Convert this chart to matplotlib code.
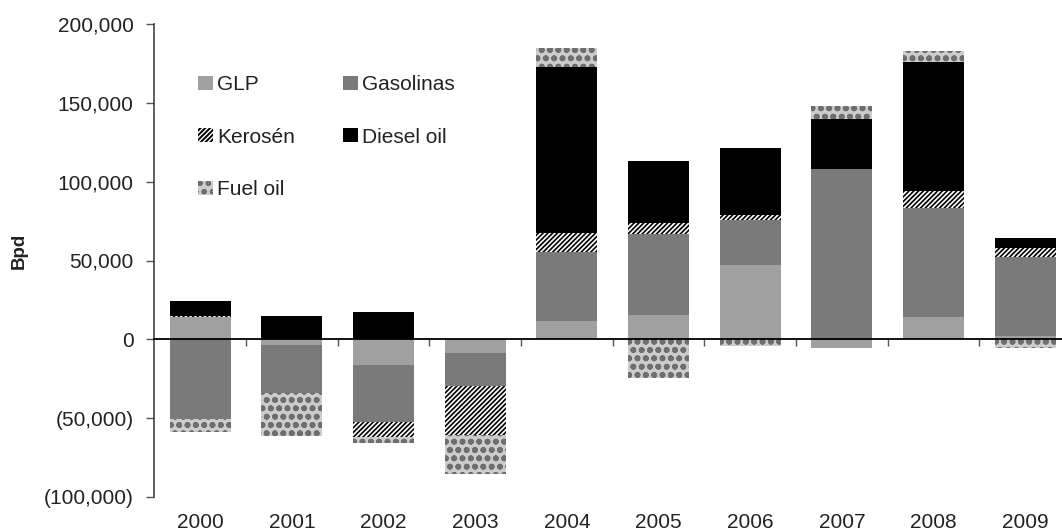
import numpy as np
import matplotlib.pyplot as plt
from matplotlib.ticker import FuncFormatter, FixedLocator

plt.rcParams['font.family'] = ['Liberation Sans', 'DejaVu Sans']
plt.rcParams['hatch.linewidth'] = 1.4

# data (Bpd)
years = ["2000", "2001", "2002", "2003", "2004",
         "2005", "2006", "2007", "2008", "2009"]
glp = [14400, -3800, -16100, -8600, 11800, 15700, 47300, -5400, 14000, 2000]
gasolinas = [-50500, -30100, -36600, -21100, 43700,
             51000, 28400, 108200, 69300, 50100]
kerosen = [700, 0, -9000, -31200, 11800, 6900, 3200, 0, 10800, 5800]
diesel = [9000, 15000, 17200, 0, 105400, 39400, 42600, 31600, 81800, 6500]
fuel_oil = [-8000, -27500, -3900, -24700, 11800,
            -24700, -4300, 8000, 7100, -5800]

# name, values, bar style, hatch line width (pt)
series = [
  ("GLP", glp, dict(color="#a0a0a0"), 1.0),
  ("Gasolinas", gasolinas, dict(color="#7a7a7a"), 1.0),
  ("Kerosén", kerosen, dict(facecolor="white", edgecolor="black",
                            hatch="///////", linewidth=0), 1.2),
  ("Diesel oil", diesel, dict(color="black"), 1.0),
  ("Fuel oil", fuel_oil, dict(facecolor="#cccccc", edgecolor="#6e6e6e",
                              hatch="oo", linewidth=0), 1.8),
]

W, H = 1062, 532
fig = plt.figure(figsize=(W / 100, H / 100), dpi=100)
ax = fig.add_axes([154.3 / W, 35 / H, (W - 154.3) / W, 473 / H])

x = np.arange(len(years))
pos = np.zeros(len(years))
neg = np.zeros(len(years))
handles = {}
for name, vals, style, hlw in series:
  v = np.array(vals, dtype=float)
  bottom = np.where(v >= 0, pos, neg)
  with plt.rc_context({"hatch.linewidth": hlw}):
    handles[name] = ax.bar(x, v, 0.665, bottom=bottom, label=name, **style)
  pos += np.clip(v, 0, None)
  neg += np.clip(v, None, 0)

ax.set_xlim(-0.5, 9.4)
ax.set_ylim(-100000, 200000)

# axes styling
for s in ["top", "right"]:
  ax.spines[s].set_visible(False)
ax.spines["bottom"].set_position(("data", 0))
ax.spines["bottom"].set_linewidth(1.3)
ax.spines["bottom"].set_color("black")
ax.spines["left"].set_color("#444444")
ax.spines["left"].set_linewidth(1.2)

ax.xaxis.set_major_locator(FixedLocator(np.arange(0.5, 9.5, 1)))
ax.tick_params(axis="x", direction="out", length=5, width=1,
               color="#555555", labelbottom=False)
ax.set_yticks(np.arange(-100000, 200001, 50000))
ax.yaxis.set_major_formatter(FuncFormatter(
  lambda v, p: "({:,.0f})".format(-v) if v < 0 else "{:,.0f}".format(v)))
ax.tick_params(axis="y", direction="out", length=6, width=1,
               color="#555555", labelsize=15, labelcolor="#222222", pad=9)

for i, yr in enumerate(years):
  ax.text(i, -0.053, yr, transform=ax.get_xaxis_transform(),
          ha="center", va="center", fontsize=15, color="#222222")

fig.text(19.5 / W, 1 - 251 / H, "Bpd", rotation=90, ha="center",
         va="center", fontsize=13.5, fontweight="bold", color="#222222")

order = ["GLP", "Kerosén", "Fuel oil", "Gasolinas", "Diesel oil"]
ax.legend([handles[k] for k in order], order, ncol=2, frameon=False,
          loc="upper left", bbox_to_anchor=(198 / W, 1 - 75 / H),
          bbox_transform=fig.transFigure, borderpad=0, borderaxespad=0,
          fontsize=15, handlelength=0.72, handleheight=0.65,
          handletextpad=0.2, columnspacing=2.3, labelspacing=1.61,
          labelcolor="#222222")

fig.savefig("out.png", dpi=100)
